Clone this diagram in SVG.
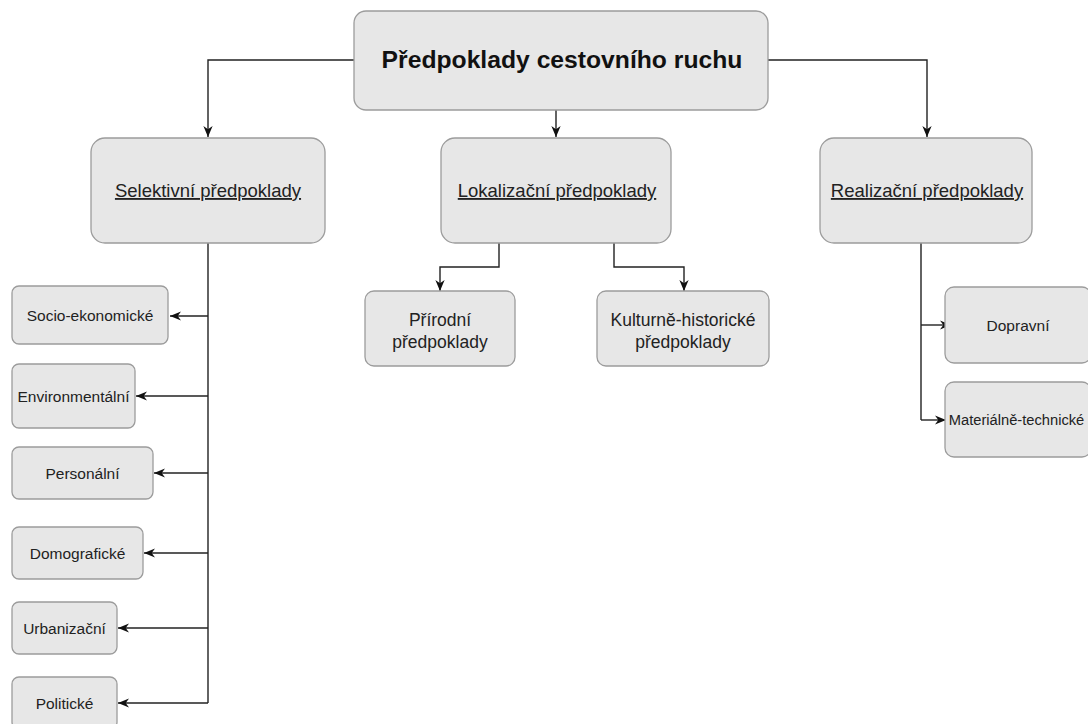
<svg xmlns="http://www.w3.org/2000/svg" width="1088" height="724" viewBox="0 0 1088 724">
<defs>
<marker id="arr" viewBox="0 0 10 10" refX="10" refY="5" markerWidth="11" markerHeight="11" markerUnits="userSpaceOnUse" orient="auto">
<path d="M0,0.8 L10,5 L0,9.2 L3,5 z" fill="#111"/>
</marker>
<style>
.box{fill:#e7e7e7;stroke:#9c9c9c;stroke-width:1.3}
.c{fill:none;stroke:#222;stroke-width:1.4;marker-end:url(#arr)}
.t{font-family:"Liberation Sans",Arial,sans-serif;fill:#222;text-anchor:middle}
.big{font-size:24.7px;font-weight:bold;fill:#111}
.mid{font-size:18.5px;text-decoration:underline}
.sm{font-size:15.5px}
.ch{font-size:17.5px}
</style>
</defs>
<rect width="1088" height="724" fill="#ffffff"/>
<g id="connectors">
<path class="c" d="M354,60 H208 V137"/>
<path class="c" d="M556,110 V137"/>
<path class="c" d="M768,60 H927 V137"/>
<path class="c" d="M499,243 V267 H440 V291"/>
<path class="c" d="M614,243 V267 H684 V291"/>
<path d="M208,243 V703" fill="none" stroke="#222" stroke-width="1.4"/>
<path class="c" d="M208,316 H170"/>
<path class="c" d="M208,396 H136"/>
<path class="c" d="M208,473 H154"/>
<path class="c" d="M208,553 H144"/>
<path class="c" d="M208,628 H118"/>
<path class="c" d="M208,703 H118"/>
<path d="M921,243 V420" fill="none" stroke="#222" stroke-width="1.4"/>
<path class="c" d="M921,325 H951"/>
<path class="c" d="M921,420 H946"/>
</g>
<g id="root">
<rect class="box" x="354" y="11" width="414" height="99" rx="12"/>
<text class="t big" x="562" y="68">Předpoklady cestovního ruchu</text>
</g>
<g id="selektivni">
<rect class="box" x="91" y="138" width="234" height="105" rx="14"/>
<text class="t mid" x="208" y="197">Selektivní předpoklady</text>
</g>
<g id="lokalizacni">
<rect class="box" x="441" y="138" width="230" height="105" rx="14"/>
<text class="t mid" x="557" y="197">Lokalizační předpoklady</text>
</g>
<g id="realizacni">
<rect class="box" x="820" y="138" width="212" height="105" rx="14"/>
<text class="t mid" x="927" y="197">Realizační předpoklady</text>
</g>
<g id="prirodni">
<rect class="box" x="365" y="291" width="150" height="75" rx="9"/>
<text class="t ch" x="440" y="326">Přírodní</text>
<text class="t ch" x="440" y="348">předpoklady</text>
</g>
<g id="kulturne">
<rect class="box" x="597" y="291" width="172" height="75" rx="9"/>
<text class="t ch" x="683" y="326">Kulturně-historické</text>
<text class="t ch" x="683" y="348">předpoklady</text>
</g>
<g id="socio">
<rect class="box" x="12" y="286" width="156" height="58" rx="7"/>
<text class="t sm" x="90" y="321">Socio-ekonomické</text>
</g>
<g id="environmentalni">
<rect class="box" x="12" y="364" width="123" height="64" rx="7"/>
<text class="t sm" x="73.5" y="401.5">Environmentální</text>
</g>
<g id="personalni">
<rect class="box" x="12" y="447" width="141" height="52" rx="7"/>
<text class="t sm" x="82.5" y="478.5">Personální</text>
</g>
<g id="domograficke">
<rect class="box" x="12" y="527" width="131" height="52" rx="7"/>
<text class="t sm" x="77.5" y="558.5">Domografické</text>
</g>
<g id="urbanizacni">
<rect class="box" x="12" y="602" width="105" height="52" rx="7"/>
<text class="t sm" x="64.5" y="633.5">Urbanizační</text>
</g>
<g id="politicke">
<rect class="box" x="12" y="677" width="105" height="52" rx="7"/>
<text class="t sm" x="64.5" y="708.5">Politické</text>
</g>
<g id="dopravni">
<rect class="box" x="945" y="287" width="146" height="76" rx="9"/>
<text class="t sm" x="1018" y="330.5">Dopravní</text>
</g>
<g id="materialne">
<rect class="box" x="945" y="382" width="146" height="75" rx="9"/>
<text class="t" x="1016.5" y="425.2" style="font-size:14.7px">Materiálně-technické</text>
</g>
</svg>
